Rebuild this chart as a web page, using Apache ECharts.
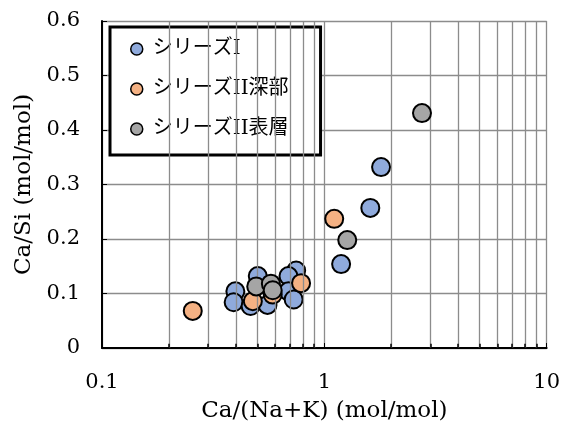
<!DOCTYPE html>
<html>
<head>
<meta charset="utf-8">
<script src="https://cdn.jsdelivr.net/npm/echarts@6/dist/echarts.min.js"></script>
<style>
  html, body { margin: 0; padding: 0; background: #fff; }
  #chartmain { width: 563px; height: 428px; }
</style>
</head>
<body>
<div id="chartmain"></div>
<script>
// シリーズI
var s1X = [1.80, 1.61, 1.19, 0.398, 0.391, 0.502, 0.466, 0.555, 0.747, 0.690, 0.690, 0.728];
var s1Y = [0.332, 0.257, 0.154, 0.104, 0.084, 0.132, 0.077, 0.079, 0.142, 0.132, 0.104, 0.089];
// シリーズII深部
var s2X = [0.256, 1.108, 0.477, 0.586, 0.786];
var s2Y = [0.068, 0.237, 0.086, 0.098, 0.119];
// シリーズII表層
var s3X = [2.75, 1.268, 0.494, 0.575, 0.586];
var s3Y = [0.431, 0.198, 0.113, 0.118, 0.106];

var seriesNames = ['シリーズI', 'シリーズII深部', 'シリーズII表層'];
var seriesColors = ['#8FAADC', '#F4B183', '#A5A5A5'];
// 対数軸の補助目盛 (2〜9)
var minorX = [0.2, 0.3, 0.4, 0.5, 0.6, 0.7, 0.8, 0.9, 2, 3, 4, 5, 6, 7, 8, 9];

var serifFont = "'DejaVu Serif', 'Noto Sans CJK JP', serif";
var gridColor = '#8c8c8c';

function pairs(xs, ys) {
  return xs.map(function (x, i) { return [x, ys[i]]; });
}

var myChart = echarts.init(document.getElementById('chartmain'));

var gridLines = minorX.map(function (v) { return { xAxis: v }; });
var minorTicks = minorX.map(function (v) {
  return [
    { coord: [v, 0], lineStyle: { color: '#000', width: 1.5 } },
    { coord: [v, 0.008] }
  ];
});

var series = [[s1X, s1Y], [s2X, s2Y], [s3X, s3Y]].map(function (d, i) {
  return {
    name: seriesNames[i],
    type: 'scatter',
    data: pairs(d[0], d[1]),
    symbol: 'circle',
    symbolSize: 18,
    itemStyle: { color: seriesColors[i], borderColor: '#000', borderWidth: 2, opacity: 1 },
    z: 3 + i
  };
});

// 補助グリッド線 (縦)
series.push({
  type: 'scatter',
  data: [],
  silent: true,
  z: 1,
  markLine: {
    silent: true,
    symbol: 'none',
    label: { show: false },
    lineStyle: { color: gridColor, width: 1.3, type: 'solid' },
    data: gridLines.concat(minorTicks),
    animation: false
  }
});

myChart.setOption({
  animation: false,
  grid: { left: 102, right: 15, top: 21, bottom: 80 },
  legend: {
    orient: 'vertical',
    left: 110,
    top: 27,
    data: seriesNames,
    backgroundColor: '#fff',
    borderColor: '#000',
    borderWidth: 3,
    padding: [12, 32, 16, 20],
    itemGap: 20,
    itemWidth: 12,
    itemHeight: 12,
    icon: 'circle',
    itemStyle: { borderWidth: 1.5, borderColor: '#000' },
    textStyle: { fontFamily: serifFont, fontSize: 20, color: '#000', padding: [0, 0, 0, 5] }
  },
  xAxis: {
    type: 'log',
    logBase: 10,
    min: 0.1,
    max: 10,
    name: 'Ca/(Na+K) (mol/mol)',
    nameLocation: 'middle',
    nameGap: 52,
    nameTextStyle: { fontFamily: serifFont, fontSize: 23, color: '#000' },
    axisLine: { lineStyle: { color: '#000', width: 2 } },
    axisTick: { show: true, inside: true, length: 5, lineStyle: { color: '#000' } },
    axisLabel: { fontFamily: serifFont, fontSize: 21, color: '#000', margin: 24 },
    splitLine: { show: true, lineStyle: { color: gridColor, width: 1.3 } }
  },
  yAxis: {
    type: 'value',
    min: 0,
    max: 0.6,
    interval: 0.1,
    name: 'Ca/Si (mol/mol)',
    nameLocation: 'middle',
    nameGap: 63,
    nameTextStyle: { fontFamily: serifFont, fontSize: 23, color: '#000' },
    axisLine: { show: true, lineStyle: { color: '#000', width: 2 } },
    axisTick: { show: true, inside: true, length: 5, lineStyle: { color: '#000' } },
    axisLabel: { fontFamily: serifFont, fontSize: 21, color: '#000', margin: 22 },
    splitLine: { show: true, lineStyle: { color: gridColor, width: 1.3 } }
  },
  series: series
});
</script>
</body>
</html>
